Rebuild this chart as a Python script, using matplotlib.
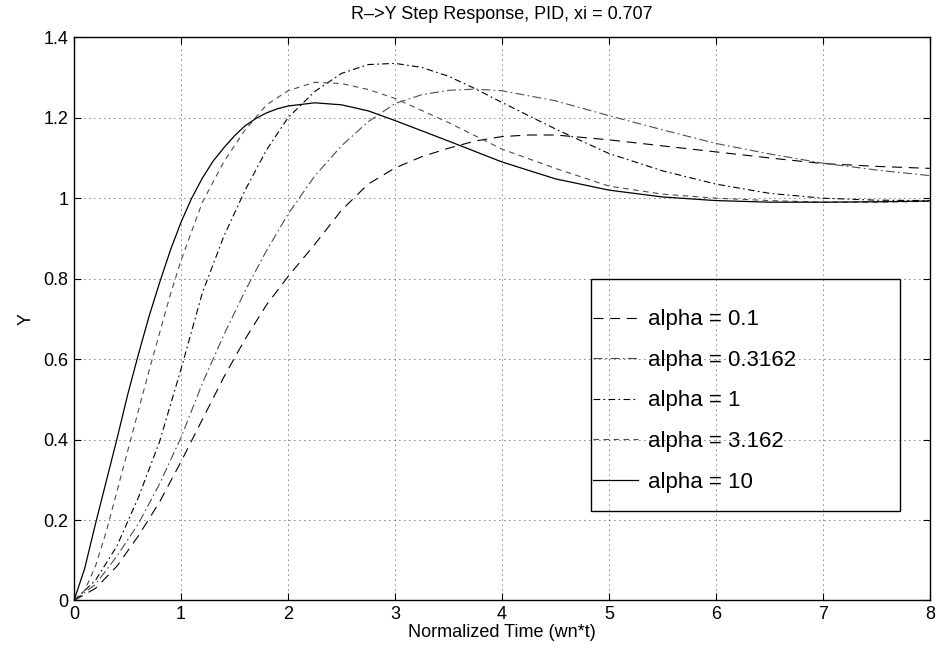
import matplotlib
matplotlib.use("Agg")
import matplotlib.pyplot as plt
from matplotlib.patches import Rectangle

plt.rcParams['font.family'] = ['Liberation Sans', 'DejaVu Sans']

# values
t_a10 = [0, 0.1, 0.2, 0.3, 0.4, 0.5, 0.6, 0.7, 0.8, 0.9, 1.0, 1.1, 1.2, 1.3, 1.4, 1.5, 1.6, 1.7, 1.8, 1.9,
         2.0, 2.25, 2.5, 2.75, 3.0, 3.5, 4.0, 4.5, 5.0, 5.5, 6.0, 6.5, 7.0, 7.5, 8.0]
y_a10 = [0, 0.08, 0.19, 0.295, 0.40, 0.51, 0.61, 0.705, 0.79, 0.87, 0.94, 1.0, 1.05, 1.092, 1.125, 1.155,
         1.18, 1.198, 1.212, 1.222,
         1.229, 1.237, 1.232, 1.217, 1.193, 1.142, 1.09, 1.048, 1.02, 1.003, 0.994, 0.99, 0.99, 0.991, 0.993]

t_a3 = [0, 0.1, 0.2, 0.3, 0.4, 0.5, 0.6, 0.7, 0.8, 0.9, 1.0, 1.2, 1.4, 1.6, 1.8,
        2.0, 2.25, 2.5, 2.75, 3.0, 3.5, 4.0, 4.5, 5.0, 5.5, 6.0, 6.5, 7.0, 7.5, 8.0]
y_a3 = [0, 0.025, 0.085, 0.17, 0.27, 0.37, 0.47, 0.57, 0.665, 0.76, 0.845, 0.99, 1.09, 1.17, 1.232,
        1.267, 1.288, 1.285, 1.27, 1.248, 1.188, 1.122, 1.074, 1.03, 1.01, 1.0, 0.994, 0.99, 0.99, 0.992]

t_a1 = [0, 0.2, 0.4, 0.6, 0.8, 1.0, 1.2, 1.4, 1.6, 1.8, 2.0, 2.25, 2.5, 2.75,
        3.0, 3.25, 3.5, 3.75, 4.0, 4.5, 5.0, 5.5, 6.0, 6.5, 7.0, 7.5, 8.0]
y_a1 = [0, 0.05, 0.135, 0.255, 0.395, 0.575, 0.765, 0.905, 1.02, 1.12, 1.2, 1.265, 1.31, 1.332,
        1.335, 1.325, 1.303, 1.272, 1.238, 1.172, 1.111, 1.068, 1.035, 1.012, 1.0, 0.995, 0.994]

t_a03 = [0, 0.2, 0.4, 0.6, 0.8, 1.0, 1.2, 1.4, 1.6, 1.8, 2.0, 2.25, 2.5, 2.75,
         3.0, 3.25, 3.5, 3.75, 4.0, 4.5, 5.0, 5.5, 6.0, 6.5, 7.0, 7.5, 8.0]
y_a03 = [0, 0.04, 0.11, 0.19, 0.29, 0.405, 0.54, 0.66, 0.77, 0.87, 0.96, 1.055, 1.13, 1.19,
         1.235, 1.257, 1.268, 1.271, 1.267, 1.242, 1.205, 1.17, 1.136, 1.11, 1.087, 1.07, 1.056]

t_a01 = [0, 0.2, 0.4, 0.6, 0.8, 1.0, 1.2, 1.4, 1.6, 1.8, 2.0, 2.25, 2.5, 2.75,
         3.0, 3.25, 3.5, 3.75, 4.0, 4.25, 4.5, 5.0, 5.5, 6.0, 6.5, 7.0, 7.5, 8.0]
y_a01 = [0, 0.03, 0.085, 0.16, 0.245, 0.345, 0.45, 0.555, 0.65, 0.735, 0.805, 0.885, 0.97, 1.035,
         1.075, 1.103, 1.124, 1.142, 1.153, 1.157, 1.157, 1.145, 1.13, 1.115, 1.1, 1.086, 1.079, 1.074]

labels = ['alpha = 0.1', 'alpha = 0.3162', 'alpha = 1', 'alpha = 3.162', 'alpha = 10']

fig = plt.figure(figsize=(9.43, 6.53), dpi=100)
ax = fig.add_axes([0.0785, 0.0804, 0.9075, 0.8626])

ax.plot(t_a01, y_a01, color='k', lw=0.8, linestyle=(0, (9, 6)), label=labels[0])
ax.plot(t_a03, y_a03, color='0.3', lw=0.8, linestyle=(0, (8, 3, 1.5, 3)), label=labels[1])
ax.plot(t_a1, y_a1, color='k', lw=0.8, linestyle=(0, (6, 3, 1.5, 3)), label=labels[2])
ax.plot(t_a3, y_a3, color='0.3', lw=0.8, linestyle=(0, (5, 4)), label=labels[3])
ax.plot(t_a10, y_a10, color='k', lw=0.9, linestyle='-', label=labels[4])

ax.set_xlim(0, 8)
ax.set_ylim(0, 1.4)
ax.set_xticks(range(0, 9))
ax.set_yticks([0, 0.2, 0.4, 0.6, 0.8, 1.0, 1.2, 1.4])
ax.set_yticklabels(['0', '0.2', '0.4', '0.6', '0.8', '1', '1.2', '1.4'])
ax.tick_params(direction='in', top=True, right=True, length=5, width=0.8,
               labelsize=13, pad=4)
ax.grid(True, color='k', linestyle=(0, (1, 5)), linewidth=0.6)
for s in ax.spines.values():
    s.set_linewidth(1.0)

ax.set_xlabel('Normalized Time (wn*t)', fontsize=13, labelpad=1)
ax.set_ylabel('Y', fontsize=13, labelpad=6)
ax.set_title('R\u2013>Y Step Response, PID, xi = 0.707', fontsize=13, pad=13)

# legend box (transparent, grid shows through)
ax.add_patch(Rectangle((0.604, 0.159), 0.361, 0.412, transform=ax.transAxes,
                       fill=False, edgecolor='k', linewidth=1.0, zorder=5))
ax.legend(loc='upper left', bbox_to_anchor=(0.607, 0.517), frameon=False,
          fontsize=16, handlelength=2.0, handletextpad=0.45, labelspacing=0.88,
          borderpad=0, borderaxespad=0)

fig.savefig('out.png', dpi=100)
